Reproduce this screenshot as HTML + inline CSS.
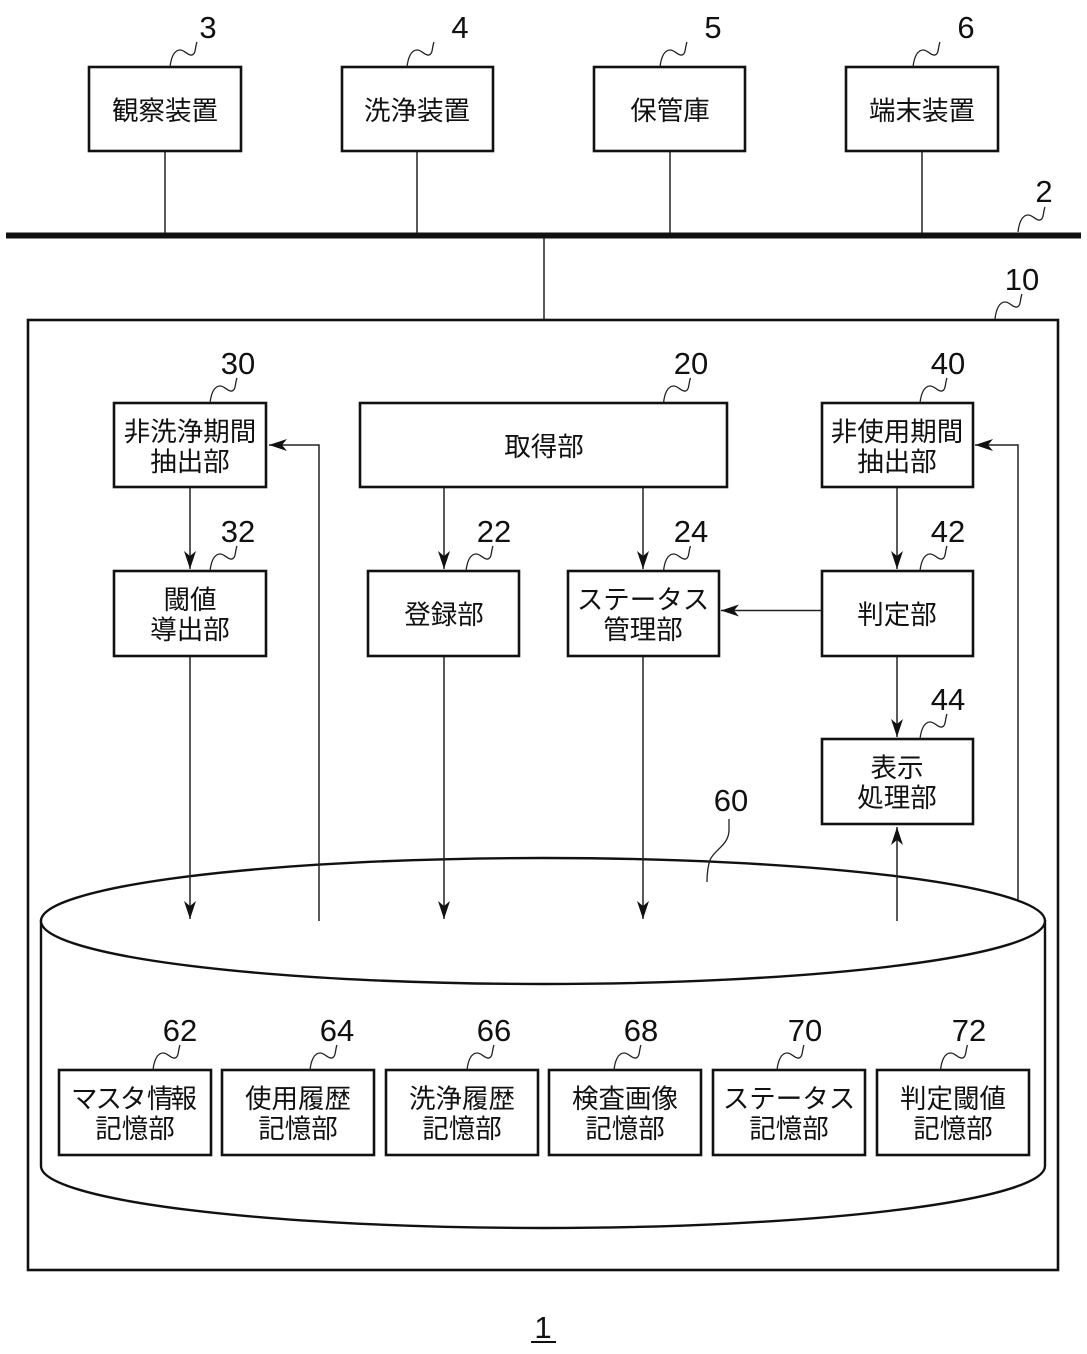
<!DOCTYPE html>
<html><head><meta charset="utf-8"><style>
html,body{margin:0;padding:0;background:#fff}
svg{display:block}
.b{fill:#fff;stroke:#111;stroke-width:2.6}
.l{fill:none;stroke:#222;stroke-width:1.5}
.q{fill:none;stroke:#222;stroke-width:1.3}
.c{fill:#fff;stroke:#111;stroke-width:2.4}
.t{font-family:"Liberation Sans","Noto Sans CJK JP",sans-serif;font-size:26.5px;text-anchor:middle;fill:#111}
.n{font-family:"Liberation Sans",sans-serif;font-size:31px;text-anchor:middle;fill:#111}
</style></head><body>
<svg width="1087" height="1354" viewBox="0 0 1087 1354" xmlns="http://www.w3.org/2000/svg">
<defs>
<marker id="a" markerUnits="userSpaceOnUse" markerWidth="20" markerHeight="14" refX="18" refY="7" orient="auto"><path d="M18,7 L0,1 L5,7 L0,13 Z" fill="#111"/></marker>
<path id="s" d="M0,0 C1,-9 4,-17 10,-17 C15,-17 18,-11 22,-12 C26,-13 25,-20 27,-25"/>
</defs>
<rect width="1087" height="1354" fill="#fff"/>

<!-- network -->
<rect x="6" y="232.500" width="1075" height="6" fill="#111"/>
<path class="l" d="M165,151V233M417,151V233M670,151V233M922,151V233M544,238V320"/>
<rect class="b" x="89" y="67" width="152" height="84"/>
<rect class="b" x="342" y="67" width="151" height="84"/>
<rect class="b" x="594" y="67" width="151" height="84"/>
<rect class="b" x="846" y="67" width="152" height="84"/>
<text class="t" x="165" y="120">観察装置</text>
<text class="t" x="417" y="120">洗浄装置</text>
<text class="t" x="670" y="120">保管庫</text>
<text class="t" x="922" y="120">端末装置</text>

<!-- outer -->
<rect class="b" x="28" y="320" width="1030" height="950"/>

<!-- cylinder -->
<path class="c" d="M41,921 V1166 A502,62 0 0 0 1045,1166 V921 Z"/>
<ellipse class="c" cx="543" cy="921" rx="502" ry="63"/>

<!-- connectors -->
<path class="l" marker-end="url(#a)" d="M190,487V569"/>
<path class="l" marker-end="url(#a)" d="M444,487V569"/>
<path class="l" marker-end="url(#a)" d="M643,487V569"/>
<path class="l" marker-end="url(#a)" d="M897,487V569"/>
<path class="l" marker-end="url(#a)" d="M897,656V737"/>
<path class="l" marker-end="url(#a)" d="M822,610.500H721"/>
<path class="l" marker-end="url(#a)" d="M190,656V919"/>
<path class="l" marker-end="url(#a)" d="M444,656V919"/>
<path class="l" marker-end="url(#a)" d="M643,656V919"/>
<path class="l" marker-end="url(#a)" d="M319,921V445H269"/>
<path class="l" marker-end="url(#a)" d="M1018,900V445H975"/>
<path class="l" marker-end="url(#a)" d="M897,921V827"/>

<!-- boxes -->
<rect class="b" x="114" y="403" width="152" height="84"/>
<rect class="b" x="360" y="403" width="367" height="84"/>
<rect class="b" x="822" y="403" width="151" height="84"/>
<rect class="b" x="114" y="571" width="152" height="85"/>
<rect class="b" x="368" y="571" width="151" height="85"/>
<rect class="b" x="568" y="571" width="151" height="85"/>
<rect class="b" x="822" y="571" width="151" height="85"/>
<rect class="b" x="822" y="739" width="151" height="85"/>
<text class="t" x="190" y="441">非洗浄期間</text><text class="t" x="190" y="471">抽出部</text>
<text class="t" x="544" y="456">取得部</text>
<text class="t" x="897" y="441">非使用期間</text><text class="t" x="897" y="471">抽出部</text>
<text class="t" x="190" y="609">閾値</text><text class="t" x="190" y="639">導出部</text>
<text class="t" x="444" y="624">登録部</text>
<text class="t" x="643" y="609">ステータス</text><text class="t" x="643" y="639">管理部</text>
<text class="t" x="897" y="624">判定部</text>
<text class="t" x="897" y="777">表示</text><text class="t" x="897" y="807">処理部</text>

<!-- storage -->
<rect class="b" x="59" y="1070" width="152" height="85"/>
<rect class="b" x="222" y="1070" width="152" height="85"/>
<rect class="b" x="386" y="1070" width="152" height="85"/>
<rect class="b" x="549" y="1070" width="152" height="85"/>
<rect class="b" x="713" y="1070" width="152" height="85"/>
<rect class="b" x="877" y="1070" width="152" height="85"/>
<text class="t" y="1108" style="text-anchor:start"><tspan x="71" letter-spacing="-2">マスタ</tspan><tspan x="147" letter-spacing="-3">情報</tspan></text><text class="t" x="135" y="1138">記憶部</text>
<text class="t" x="298" y="1108">使用履歴</text><text class="t" x="298" y="1138">記憶部</text>
<text class="t" x="462" y="1108">洗浄履歴</text><text class="t" x="462" y="1138">記憶部</text>
<text class="t" x="625" y="1108">検査画像</text><text class="t" x="625" y="1138">記憶部</text>
<text class="t" x="789" y="1108">ステータス</text><text class="t" x="789" y="1138">記憶部</text>
<text class="t" x="953" y="1108">判定閾値</text><text class="t" x="953" y="1138">記憶部</text>

<!-- leaders -->
<g class="q">
<use href="#s" x="170" y="67"/><use href="#s" x="407" y="67"/><use href="#s" x="660" y="67"/><use href="#s" x="913" y="67"/>
<use href="#s" x="1018" y="232"/><use href="#s" x="995" y="319"/>
<use href="#s" x="210" y="403"/><use href="#s" x="663.500" y="403"/><use href="#s" x="920" y="403"/>
<use href="#s" x="210" y="571"/><use href="#s" x="466" y="571"/><use href="#s" x="663.500" y="571"/><use href="#s" x="920" y="571"/>
<use href="#s" x="920" y="739"/>
<use href="#s" x="153" y="1070"/><use href="#s" x="310" y="1070"/><use href="#s" x="467" y="1070"/><use href="#s" x="614" y="1070"/><use href="#s" x="777" y="1070"/><use href="#s" x="940.500" y="1070"/>
</g>
<path class="q" d="M707,882 C707,874 708,866 710,860 C714,850 729,845 729,830 L729,819"/>

<!-- numbers -->
<text class="n" x="208" y="38">3</text><text class="n" x="460" y="38">4</text><text class="n" x="713" y="38">5</text><text class="n" x="966" y="38">6</text>
<text class="n" x="1044" y="202">2</text><text class="n" x="1022" y="290">10</text>
<text class="n" x="238" y="374">30</text><text class="n" x="691" y="374">20</text><text class="n" x="948" y="374">40</text>
<text class="n" x="238" y="542">32</text><text class="n" x="494" y="542">22</text><text class="n" x="691" y="542">24</text><text class="n" x="948" y="542">42</text>
<text class="n" x="948" y="710">44</text><text class="n" x="731" y="811">60</text>
<text class="n" x="180" y="1041">62</text><text class="n" x="337" y="1041">64</text><text class="n" x="494" y="1041">66</text><text class="n" x="641" y="1041">68</text><text class="n" x="805" y="1041">70</text><text class="n" x="969" y="1041">72</text>
<text class="n" x="543" y="1338">1</text>
<rect x="531" y="1341" width="25" height="2" fill="#111"/>
</svg>
</body></html>
